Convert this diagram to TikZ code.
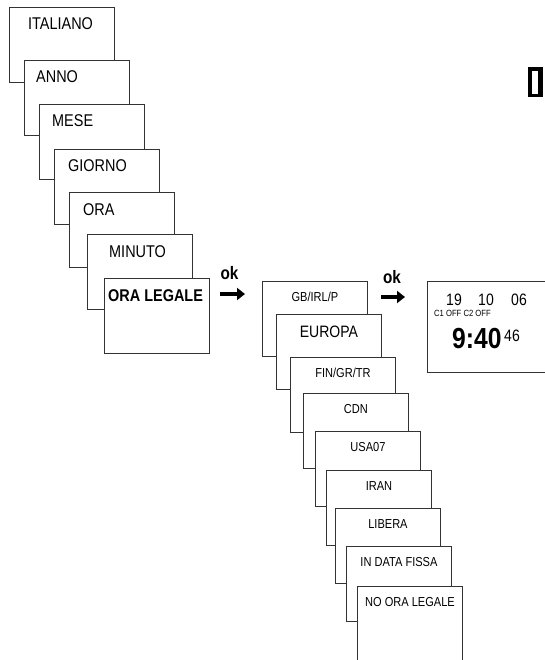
\documentclass[tikz,border=0pt]{standalone}
\usepackage{fontspec}
\setmainfont{Liberation Sans}[FakeStretch=0.85]
\usetikzlibrary{arrows.meta}

\tikzset{
  menubox/.style={draw=black!80, line width=0.9pt, fill=white, anchor=north west,
    minimum width=105pt, minimum height=75pt, inner sep=0pt},
  menutxt/.style={font=\fontsize{17}{20}\selectfont, inner sep=0pt, anchor=base west},
  settxt/.style={font=\fontsize{13}{15}\selectfont, inner sep=0pt, anchor=base},
  oklbl/.style={font=\bfseries\fontsize{18}{20}\selectfont, inner sep=0pt, anchor=base},
  okarrow/.style={line width=4pt, -{Triangle[length=8pt,width=12pt]}},
  disptxt/.style={inner sep=0pt, anchor=base west}
}

\begin{document}
\begin{tikzpicture}[x=1pt, y=-1pt]
    \useasboundingbox (0,0) rectangle (544,660);

    % Colonna sinistra (menu principale)
    \foreach \px/\py/\nm/\txt/\ind in {9/7/italiano/ITALIANO/19, 24/60/anno/ANNO/12,
        39/104/mese/MESE/13, 54/149/giorno/GIORNO/14, 69/192/ora/ORA/14, 87/234/minuto/MINUTO/22}
    {
        \node[menubox] (\nm) at (\px,\py) {};
        \node[menutxt] (\nm-t) at ([xshift=\ind pt, yshift=-23pt]\nm.north west) {\txt};
    }
    \node[menubox] (legale) at (104,278) {};
    \node[menutxt, font=\bfseries\fontsize{17}{20}\selectfont] (legale-t)
        at ([xshift=4pt, yshift=-23pt]legale.north west) {ORA LEGALE};

    % Primo ok
    \coordinate (ok1s) at (220,294);
    \coordinate (ok1e) at (245,294);
    \node[oklbl] (ok1) at (229.5,279) {ok};
    \draw[okarrow] (ok1s) -- (ok1e);

    % Colonna destra (ora legale)
    \foreach \px/\py/\nm/\txt in {262/281/gb/GB\slash IRL\slash P, 276/314/europa/{},
        290/357/fin/FIN\slash GR\slash TR, 303/393/cdn/CDN, 315/431/usa/USA07, 326/470/iran/IRAN,
        335/508/libera/LIBERA, 346/546/fissa/IN DATA FISSA, 357/586/nolegale/NO ORA LEGALE}
    {
        \node[menubox] (\nm) at (\px,\py) {};
        \node[settxt] (\nm-t) at ([yshift=-20pt]\nm.north) {\txt};
    }
    \node[settxt, font=\fontsize{16.5}{19}\selectfont] (europa-tt)
        at ([yshift=-23pt]europa.north) {EUROPA};

    % Secondo ok
    \coordinate (ok2s) at (381,297);
    \coordinate (ok2e) at (405,297);
    \node[oklbl] (ok2) at (392,283) {ok};
    \draw[okarrow] (ok2s) -- (ok2e);

    % Display
    \node[menubox, minimum width=120pt, minimum height=91pt] (disp) at (427,281) {};
    \node[disptxt, font=\fontsize{16.5}{19}\selectfont] (d19) at (446,305) {19};
    \node[disptxt, font=\fontsize{16.5}{19}\selectfont] (d10) at (478,305) {10};
    \node[disptxt, font=\fontsize{16.5}{19}\selectfont] (d06) at (511,305) {06};
    \node[disptxt, font=\fontsize{9}{10}\selectfont] (doff) at (434,316) {C1 OFF C2 OFF};
    \node[disptxt, font=\bfseries\fontsize{29}{32}\selectfont] (dtime) at (452,348) {9:40};
    \node[disptxt, font=\fontsize{16.5}{19}\selectfont] (dsec) at (504,341.5) {46};

    % Indice laterale
    \fill[black] (528,67) rectangle (543,97);
    \fill[white] (532,71) rectangle (538,94);
\end{tikzpicture}
\end{document}
